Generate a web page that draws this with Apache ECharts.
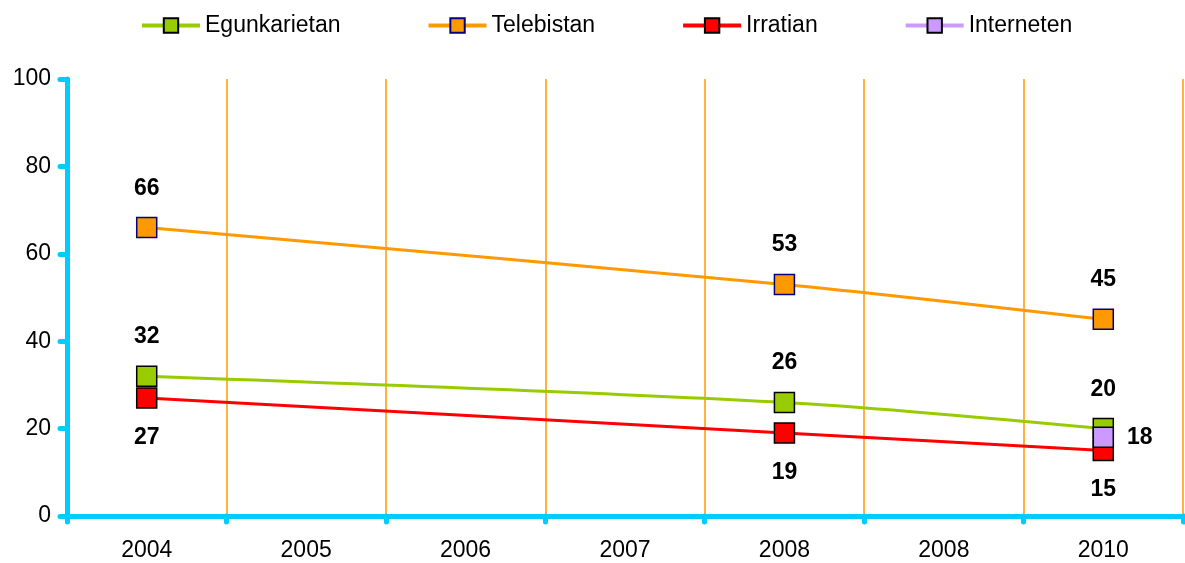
<!DOCTYPE html>
<html>
<head>
<meta charset="utf-8">
<script src="https://cdn.jsdelivr.net/npm/echarts@6/dist/echarts.min.js"></script>
<style>
  html, body { margin: 0; padding: 0; background: #fff; }
  #chart { width: 1185px; height: 563px; }
</style>
</head>
<body>
<div id="chart"></div>
<script>
var years = ['2004', '2005', '2006', '2007', '2008', '2008', '2010'];
var egunkarietan = [32, null, null, null, 26, null, 20];
var telebistan = [66, null, null, null, 53, null, 45];
var irratian = [27, null, null, null, 19, null, 15];
var interneten = [null, null, null, null, null, null, 18];

var chart = echarts.init(document.getElementById('chart'));

function lineSeries(name, data, color, border, pos, dist) {
    return {
        name: name,
        type: 'line',
        data: data,
        connectNulls: true,
        smooth: 0.3,
        symbol: 'rect',
        symbolSize: 20,
        lineStyle: { color: color, width: 3 },
        itemStyle: { color: color, borderColor: border, borderWidth: 1.5 },
        label: {
            show: true,
            position: pos,
            distance: dist,
            color: '#000',
            fontWeight: 'bold',
            fontSize: 23,
            fontFamily: 'Arial, "Liberation Sans", sans-serif'
        },
        emphasis: { disabled: true }
    };
}

var option = {
    animation: false,
    textStyle: { fontFamily: 'Arial, "Liberation Sans", sans-serif' },
    legend: {
        top: 9,
        left: 135,
        itemWidth: 58,
        itemHeight: 18,
        itemGap: 86,
        lineStyle: { width: 4 },
        itemStyle: { borderWidth: 2 },
        textStyle: { fontSize: 23, color: '#000', padding: [0, 0, 0, 0] },
        data: ['Egunkarietan', 'Telebistan', 'Irratian', 'Interneten']
    },
    grid: { left: 67, right: 2, top: 79, bottom: 47 },
    xAxis: {
        type: 'category',
        data: years,
        boundaryGap: true,
        axisLine: { lineStyle: { color: '#00CCFF', width: 5, cap: 'round' } },
        axisTick: { show: true, interval: 0, length: 6, lineStyle: { color: '#00CCFF', width: 5, cap: 'round' } },
        axisLabel: { color: '#000', fontSize: 23, margin: 23, interval: 0 },
        splitLine: { show: true, interval: 0, lineStyle: { color: '#FF9900', width: 1.5 } }
    },
    yAxis: {
        type: 'value',
        min: 0,
        max: 100,
        interval: 20,
        axisLine: { show: true, lineStyle: { color: '#00CCFF', width: 5, cap: 'round' } },
        axisTick: { show: true, length: 7, lineStyle: { color: '#00CCFF', width: 5, cap: 'round' } },
        axisLabel: { color: '#000', fontSize: 23, margin: 16 },
        splitLine: { show: false }
    },
    series: [
        lineSeries('Egunkarietan', egunkarietan, '#99CC00', '#000', 'top', 17),
        lineSeries('Telebistan', telebistan, '#FF9900', '#000080', 'top', 17),
        lineSeries('Irratian', irratian, '#FF0000', '#000', 'bottom', 17),
        lineSeries('Interneten', interneten, '#CC99FF', '#000', 'right', 13)
    ]
};

chart.setOption(option);
</script>
</body>
</html>
